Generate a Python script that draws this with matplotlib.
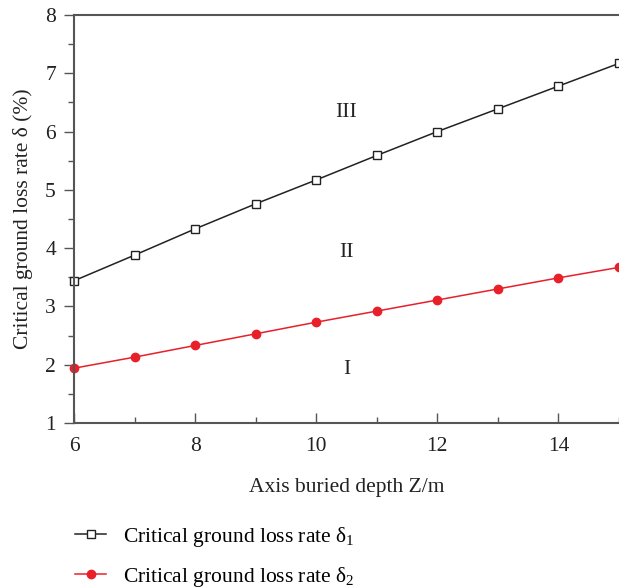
import matplotlib
matplotlib.use('Agg')
import matplotlib.pyplot as plt
from matplotlib.ticker import MultipleLocator

# data
depth = [6, 7, 8, 9, 10, 11, 12, 13, 14, 15]
delta1 = [3.44, 3.88, 4.33, 4.76, 5.17, 5.59, 6.00, 6.39, 6.78, 7.17]
delta2 = [1.94, 2.13, 2.33, 2.53, 2.73, 2.92, 3.11, 3.30, 3.49, 3.67]

zone_labels = ['III', 'II', 'I']
zone_x = [10.5, 10.5, 10.5]
zone_y = [6.32, 3.93, 1.91]

plt.rcParams['font.family'] = ['Liberation Serif', 'DejaVu Serif']
plt.rcParams['mathtext.fontset'] = 'custom'
plt.rcParams['mathtext.rm'] = 'Liberation Serif'

AX_COL = '#555555'
TXT_COL = '#222222'
FS = 15.5

fig = plt.figure(figsize=(6.19, 5.88), dpi=100)
ax = fig.add_axes([0.1195, 0.2806, 0.8805, 0.6939])

ax.plot(depth, delta1, '-', color=TXT_COL, lw=1.1, marker='s', ms=5.5,
        mfc='white', mec=TXT_COL, mew=1.0, clip_on=False,
        label=r'Critical ground loss rate δ$_\mathregular{1}$')
ax.plot(depth, delta2, '-', color='#e8202a', lw=1.1, marker='o', ms=6,
        mfc='#e8202a', mec='#e8202a', clip_on=False,
        label=r'Critical ground loss rate δ$_\mathregular{2}$')

for lab, x, y in zip(zone_labels, zone_x, zone_y):
    ax.text(x, y, lab, ha='center', va='center', fontsize=FS, color=TXT_COL)

ax.set_xlim(6, 15)
ax.set_ylim(1, 8)
ax.xaxis.set_major_locator(MultipleLocator(2))
ax.xaxis.set_minor_locator(MultipleLocator(1))
ax.yaxis.set_major_locator(MultipleLocator(1))
ax.yaxis.set_minor_locator(MultipleLocator(0.5))

ax.tick_params(axis='x', which='both', direction='in', colors=AX_COL,
               labelcolor=TXT_COL, labelsize=FS, pad=10)
ax.tick_params(axis='x', which='major', length=7, width=1.0)
ax.tick_params(axis='x', which='minor', length=4, width=1.0)
ax.tick_params(axis='y', which='both', direction='out', colors=AX_COL,
               labelcolor=TXT_COL, labelsize=FS, pad=6)
ax.tick_params(axis='y', which='major', length=7, width=1.0)
ax.tick_params(axis='y', which='minor', length=4, width=1.0)

for side in ['left', 'bottom', 'top']:
    ax.spines[side].set_color(AX_COL)
    ax.spines[side].set_linewidth(1.5)
ax.spines['right'].set_visible(False)

ax.set_xlabel('Axis buried depth Z/m', fontsize=FS, color=TXT_COL, labelpad=16)
ax.set_ylabel('Critical ground loss rate δ (%)', fontsize=FS, color=TXT_COL, labelpad=9)

fig.legend(loc='upper left', bbox_to_anchor=(0.108, 0.122), frameon=False,
           fontsize=FS, handlelength=1.4, handletextpad=0.8, labelspacing=0.75,
           borderaxespad=0)

fig.savefig('out.png', dpi=100)
